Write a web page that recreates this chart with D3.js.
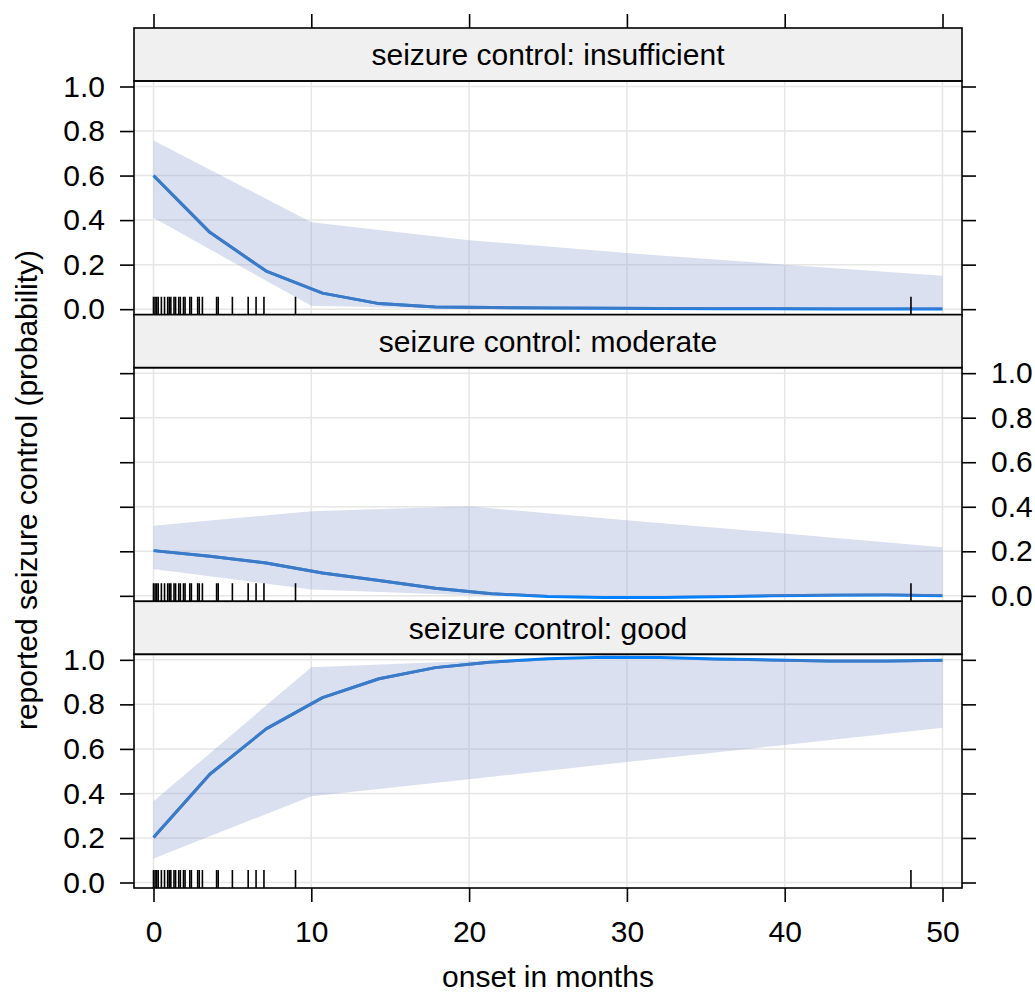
<!DOCTYPE html>
<html><head><meta charset="utf-8">
<script src="https://cdn.jsdelivr.net/npm/d3@7"></script>
<style>html,body{margin:0;padding:0;background:#fff;} svg{display:block;font-family:"Liberation Sans",Arial,Helvetica,sans-serif;}</style>
</head><body>
<svg id="chart" width="1035" height="993"></svg>
<script>
// ---- data ----
const stripLabels = ["seizure control: insufficient", "seizure control: moderate", "seizure control: good"];
const lineX = [0, 3.57, 7.14, 10.71, 14.29, 17.86, 21.43, 25, 28.57, 32.14, 35.71, 39.29, 42.86, 46.43, 50];
const insufficientFit = [0.600, 0.345, 0.171, 0.072, 0.025, 0.010, 0.007, 0.005, 0.004, 0.003, 0.002, 0.002, 0.001, 0.001, 0.001];
const moderateFit = [0.203, 0.178, 0.147, 0.103, 0.069, 0.034, 0.009, -0.003, -0.008, -0.008, -0.004, 0.000, 0.003, 0.004, 0.000];
const goodFit = [0.202, 0.486, 0.690, 0.830, 0.915, 0.965, 0.990, 1.005, 1.012, 1.010, 1.004, 0.999, 0.995, 0.995, 0.998];
const bandX = [0, 10, 20, 30, 40, 50];
const insufficientUpper = [0.758, 0.390, 0.310, 0.252, 0.200, 0.150];
const insufficientLower = [0.410, 0.015, 0.000, 0.000, 0.000, 0.000];
const moderateUpper = [0.315, 0.380, 0.402, 0.340, 0.280, 0.218];
const moderateLower = [0.121, 0.028, 0.003, 0.000, 0.000, 0.000];
const goodUpper = [0.365, 0.967, 0.995, 1.000, 1.000, 1.000];
const goodLower = [0.108, 0.387, 0.464, 0.541, 0.618, 0.695];
const rugX = [0, 0.1, 0.2, 0.3, 0.5, 0.7, 0.9, 1, 1.1, 1.3, 1.4, 1.6, 1.7, 1.9, 2, 2.3, 2.4, 2.8, 2.9, 3.1, 4, 4.1, 5, 6, 6.5, 7, 9, 48];
const xTicks = [0, 10, 20, 30, 40, 50];
const xTickLabels = ["0", "10", "20", "30", "40", "50"];
const yTicks = [0, 0.2, 0.4, 0.6, 0.8, 1.0];
const yTickLabels = ["0.0", "0.2", "0.4", "0.6", "0.8", "1.0"];
const xTitle = "onset in months";
const yTitle = "reported seizure control (probability)";

const panelsData = [
  {strip: stripLabels[0], fit: insufficientFit, upper: insufficientUpper, lower: insufficientLower, labelSide: "left"},
  {strip: stripLabels[1], fit: moderateFit, upper: moderateUpper, lower: moderateLower, labelSide: "right"},
  {strip: stripLabels[2], fit: goodFit, upper: goodUpper, lower: goodLower, labelSide: "left"}
];

// ---- layout ----
const svg = d3.select("#chart");
const L = 134, R = 962, TOP = 28, BOTTOM = 888;
const panelH = (BOTTOM - TOP) / 3, stripH = 53;
const fontSize = 30;
const tickLen = 14;
const FONT = "Liberation Sans, Arial, sans-serif";

const x = d3.scaleLinear().domain([-1.235, 51.235]).range([L, R]);

const lineBright = "#0080ff", lineMuted = "#3d7ac6";
const bandFill = "#96a5d2", bandOpacity = 0.343;
const lineW = 3;

panelsData.forEach((p, i) => {
  const top = TOP + i * panelH;
  const dTop = top + stripH, dBot = top + panelH;
  const y = d3.scaleLinear().domain([-0.0247, 1.0247]).range([dBot, dTop]);
  const g = svg.append("g");
  const clipId = "clip" + i, bandClipId = "bclip" + i;
  const defs = g.append("defs");
  defs.append("clipPath").attr("id", clipId).append("rect")
    .attr("x", L).attr("y", dTop).attr("width", R - L).attr("height", dBot - dTop);

  const area = d3.area().x((d, k) => x(bandX[k])).y0((d, k) => y(p.lower[k])).y1(d => y(d));
  defs.append("clipPath").attr("id", bandClipId).append("path").attr("d", area(p.upper));

  const inner = g.append("g").attr("clip-path", `url(#${clipId})`);
  // grid
  inner.selectAll(".vg").data(xTicks).join("line")
    .attr("x1", d => x(d)).attr("x2", d => x(d)).attr("y1", dTop).attr("y2", dBot)
    .attr("stroke", "#e6e6e6").attr("stroke-width", 1.5);
  inner.selectAll(".hg").data(yTicks).join("line")
    .attr("x1", L).attr("x2", R).attr("y1", d => y(d)).attr("y2", d => y(d))
    .attr("stroke", "#e6e6e6").attr("stroke-width", 1.5);

  const line = d3.line().x((d, k) => x(lineX[k])).y(d => y(d));
  inner.append("path").attr("d", line(p.fit)).attr("fill", "none")
    .attr("stroke", lineBright).attr("stroke-width", lineW).attr("stroke-linejoin", "round");
  inner.append("path").attr("d", area(p.upper)).attr("fill", bandFill).attr("fill-opacity", bandOpacity);
  inner.append("g").attr("clip-path", `url(#${bandClipId})`)
    .append("path").attr("d", line(p.fit)).attr("fill", "none")
    .attr("stroke", lineMuted).attr("stroke-width", lineW).attr("stroke-linejoin", "round");

  // rug
  inner.selectAll(".rug").data(rugX).join("line")
    .attr("x1", d => x(d)).attr("x2", d => x(d)).attr("y1", dBot).attr("y2", dBot - 18)
    .attr("stroke", "#000").attr("stroke-width", 1.6);

  // strip
  g.append("rect").attr("x", L).attr("y", top).attr("width", R - L).attr("height", stripH)
    .attr("fill", "#f0f0f0").attr("stroke", "#000").attr("stroke-width", 1.6);
  g.append("text").attr("x", (L + R) / 2).attr("y", top + stripH / 2).attr("dy", "0.36em")
    .attr("text-anchor", "middle").attr("font-size", fontSize).attr("fill", "#000").text(p.strip);
  // panel border
  g.append("rect").attr("x", L).attr("y", dTop).attr("width", R - L).attr("height", dBot - dTop)
    .attr("fill", "none").attr("stroke", "#000").attr("stroke-width", 1.6);

  // y axes both sides
  const leftAxis = d3.axisLeft(y).tickValues(yTicks).tickSize(tickLen).tickPadding(15)
    .tickFormat((d, k) => p.labelSide === "left" ? yTickLabels[k] : "");
  const rightAxis = d3.axisRight(y).tickValues(yTicks).tickSize(tickLen).tickPadding(15)
    .tickFormat((d, k) => p.labelSide === "right" ? yTickLabels[k] : "");
  [[leftAxis, L], [rightAxis, R]].forEach(([ax, pos]) => {
    const a = g.append("g").attr("transform", `translate(${pos},0)`).call(ax);
    a.select(".domain").remove();
    a.selectAll(".tick line").attr("stroke", "#000").attr("stroke-width", 1.6);
    a.selectAll(".tick text").attr("font-size", fontSize).attr("fill", "#000")
      .attr("font-family", FONT);
  });
});

// x axes
const topAxis = d3.axisTop(x).tickValues(xTicks).tickSize(tickLen).tickFormat("");
const ta = svg.append("g").attr("transform", `translate(0,${TOP})`).call(topAxis);
ta.select(".domain").remove();
ta.selectAll(".tick line").attr("stroke", "#000").attr("stroke-width", 1.6);

const bottomAxis = d3.axisBottom(x).tickValues(xTicks).tickSize(tickLen).tickPadding(19)
  .tickFormat((d, k) => xTickLabels[k]);
const ba = svg.append("g").attr("transform", `translate(0,${BOTTOM})`).call(bottomAxis);
ba.select(".domain").remove();
ba.selectAll(".tick line").attr("stroke", "#000").attr("stroke-width", 1.6);
ba.selectAll(".tick text").attr("font-size", fontSize).attr("fill", "#000")
  .attr("font-family", FONT);

// titles
svg.append("text").attr("x", (L + R) / 2).attr("y", 976).attr("dy", "0.36em")
  .attr("text-anchor", "middle").attr("font-size", fontSize).text(xTitle);
svg.append("text").attr("transform", `translate(26,490) rotate(-90)`)
  .attr("dy", "0.36em").attr("text-anchor", "middle").attr("font-size", fontSize).text(yTitle);
</script>
</body></html>
